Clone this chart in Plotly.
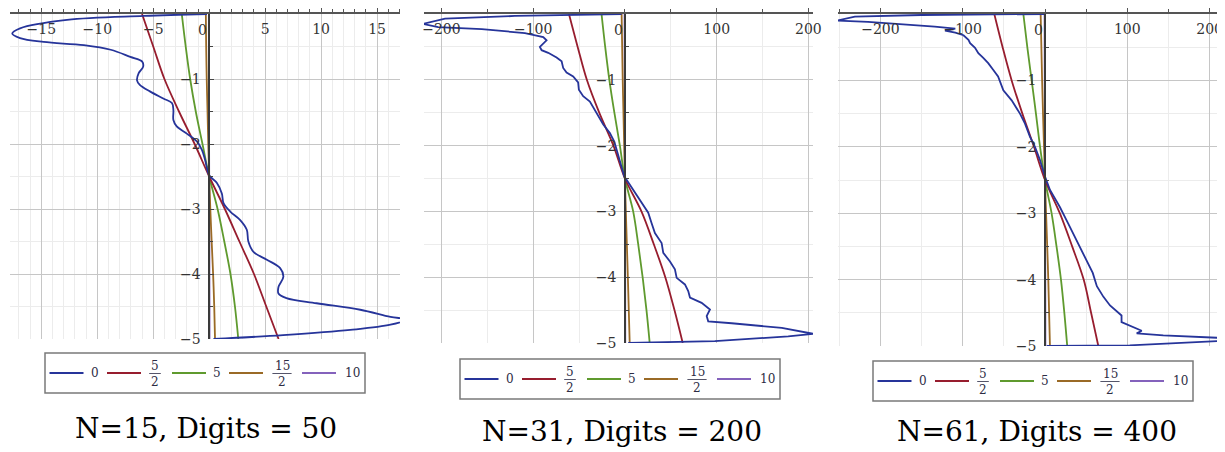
import plotly.graph_objects as go

# page is 1225x452; the browser's body margin (8px) shifts the figure, so the
# figure itself is drawn 8px smaller and all pixel positions are page positions - 8
PAGE_OFF = 8
W, H = 1225 - PAGE_OFF, 452 - PAGE_OFF

# ---------------- data ----------------
CURVE_LABELS = ["0", "5/2", "5", "15/2", "10"]
CURVE_COLORS = ["#26349a", "#971d2e", "#5f9a2e", "#9a6a26", "#8462bc"]
CAPTIONS = ["N=15, Digits = 50", "N=31, Digits = 200", "N=61, Digits = 400"]

DEPTH = [0, -0.5, -1, -1.5, -2, -2.5, -3, -3.5, -4, -4.5, -5]

# panel 1 (N=15)
p1_blue_x = [-0.2, -5.86, -12.7, -16.9, -17.6, -16.9, -14.8, -11.2, -8.8, -7.05, -6.0, -5.9, -6.3,
             -6.45, -6.2, -5.3, -4.1, -3.33, -3.2, -3.2, -2.9, -2.0, -1.1, -0.65, -0.36, 0.0,
             0.69, 1.13, 1.28, 1.88, 2.77, 3.36, 3.5, 3.96, 5.15, 6.34, 6.63, 6.19, 6.19, 6.9,
             9.6, 13.5, 16.2, 17.6, 16.2, 12.6, 6.6, 0.38]
p1_blue_y = [0, -0.03, -0.09, -0.22, -0.30, -0.37, -0.43, -0.48, -0.55, -0.66, -0.73, -0.81, -0.91,
             -1.02, -1.09, -1.19, -1.30, -1.37, -1.48, -1.63, -1.73, -1.84, -1.96, -2.09, -2.25, -2.48,
             -2.6, -2.76, -2.91, -3.04, -3.17, -3.32, -3.50, -3.66, -3.78, -3.91, -4.04, -4.20, -4.30, -4.37,
             -4.45, -4.55, -4.66, -4.70, -4.78, -4.86, -4.94, -5.0]
p1_red = [-6.0, -5.0, -4.0, -2.7, -1.3, 0, 1.4, 2.7, 4.0, 5.1, 6.2]
p1_green = [-2.45, -2.1, -1.7, -1.2, -0.6, 0, 0.75, 1.35, 1.9, 2.3, 2.6]
p1_brown = [-0.3, -0.27, -0.22, -0.15, -0.08, 0, 0.1, 0.22, 0.35, 0.45, 0.52]
p1_purple = [-0.03, -0.03, -0.02, -0.02, -0.01, 0, 0.01, 0.02, 0.02, 0.03, 0.03]

# panel 2 (N=31)
p2_blue_x = [-3.6, -120, -196, -220, -203.6, -156, -109, -89, -85.4, -92.7, -90.8, -83.6, -74.5, -69,
             -67.3, -63.6, -56.4, -51, -50.2, -45.5, -38.2, -32.7, -29.1, -23.6, -16.4, -11.6, -9.1,
             -5.5, -0.7, 1.8, 10.9, 18.2, 25.4, 29.1, 32.7, 40, 41.8, 49.1, 54.5, 56.4, 65.4, 69, 70.9,
             83.6, 92.7, 89.1, 90.8, 116.4, 171, 205, 178, 98, 3.6]
p2_blue_y = [0, -0.03, -0.07, -0.15, -0.20, -0.23, -0.29, -0.35, -0.40, -0.50, -0.55, -0.59, -0.66, -0.72,
             -0.82, -0.89, -0.95, -1.04, -1.15, -1.25, -1.33, -1.46, -1.56, -1.68, -1.81, -1.94, -2.06,
             -2.22, -2.47, -2.52, -2.72, -2.87, -3.02, -3.18, -3.33, -3.48, -3.63, -3.76, -3.88, -4.01, -4.11, -4.21, -4.31,
             -4.39, -4.49, -4.59, -4.67, -4.70, -4.77, -4.86, -4.90, -4.97, -5.0]
p2_red = [-61, -51.5, -41.5, -28, -12.5, 0, 18, 31.5, 44, 54, 63]
p2_green = [-25.5, -21.5, -17, -11.5, -5.5, 0, 9, 14.5, 19.3, 23.5, 27]
p2_brown = [-3.6, -3.0, -2.4, -1.6, -0.8, 0, 1.0, 2.1, 3.2, 4.2, 5.2]
p2_purple = [-0.4, -0.35, -0.3, -0.2, -0.1, 0, 0.1, 0.2, 0.3, 0.35, 0.4]

# panel 3 (N=61)
p3_blue_x = [0, -150, -231, -253, -215, -174, -134, -109, -121.5, -109, -99, -93, -91, -85, -81, -75,
             -69, -63, -57, -50.6, -40.5, -30.4, -24.3, -18.2, -12.2, -6.1, 0, 6.1, 18.2, 28.4, 38.5,
             46.6, 58, 63, 71, 79, 93, 93, 103, 117.5, 111.4, 143.7, 253, 184, 103, 2]
p3_blue_y = [0, -0.015, -0.04, -0.10, -0.12, -0.15, -0.19, -0.22, -0.25, -0.28, -0.32, -0.39, -0.44, -0.51, -0.59, -0.66,
             -0.74, -0.84, -0.94, -1.15, -1.30, -1.50, -1.65, -1.85, -2.0, -2.20, -2.45, -2.65, -2.91, -3.16, -3.41,
             -3.61, -3.9, -4.1, -4.26, -4.39, -4.54, -4.64, -4.69, -4.77, -4.81, -4.84, -4.90, -4.94, -4.99, -5.0]
p3_red = [-61.6, -51.5, -40.5, -27.5, -13.4, 0, 18, 33, 47, 56, 64.8]
p3_green = [-26.3, -21.5, -16.2, -11, -6, 0, 8, 14, 19.4, 23.5, 27]
p3_brown = [-5.3, -4.4, -3.5, -2.4, -1.2, 0, 1.3, 2.7, 4.0, 5.0, 6.0]
p3_purple = [-0.5, -0.45, -0.35, -0.25, -0.12, 0, 0.12, 0.25, 0.35, 0.45, 0.5]

X_RANGES = [[-17.8, 17.05], [-219, 205], [-251.5, 218.7]]
X_MAJOR = [[-15, -10, -5, 5, 10, 15], [-200, -100, 100, 200], [-200, -100, 100, 200]]
X_MINOR_STEP = [1, 50, 50]
Y_TICKS = [-1, -2, -3, -4, -5]

panels = [
    (p1_blue_x, p1_blue_y, [p1_red, p1_green, p1_brown, p1_purple], "spline"),
    (p2_blue_x, p2_blue_y, [p2_red, p2_green, p2_brown, p2_purple], "linear"),
    (p3_blue_x, p3_blue_y, [p3_red, p3_green, p3_brown, p3_purple], "linear"),
]

# ---------------- layout geometry (page pixels) ----------------
PLOT_PX = [(10, 400, 14, 339), (424, 813, 14, 343), (838, 1225, 14, 346)]
LEGEND_BOX = [(45, 353), (460, 359), (873, 361)]
LEG_W, LEG_H = 320, 40
LINE_OFF = [4.5, 62, 127, 184, 257]
LINE_LEN = 34
LABEL_OFF = [50, 110, 172, 237, 307]
CAPTION_POS = [(206, 428), (622, 431), (1037, 431)]

SERIF = "DejaVu Serif"
GRID_MAJOR = "#c6c6c6"
GRID_MINOR = "#ececec"


def px(x):
    return (x - PAGE_OFF) / W


def py(y):
    return 1 - (y - PAGE_OFF) / H


fig = go.Figure()
layout = dict(
    width=W, height=H, margin=dict(l=0, r=0, t=0, b=0, autoexpand=False),
    paper_bgcolor="white", plot_bgcolor="white", showlegend=False,
    font=dict(family=SERIF, size=14, color="#333333"),
)
shapes, annotations = [], []

for i, (bx, by, others, bshape) in enumerate(panels):
    n = i + 1
    xa = "x" if n == 1 else f"x{n}"
    ya = "y" if n == 1 else f"y{n}"
    xkey = "xaxis" if n == 1 else f"xaxis{n}"
    ykey = "yaxis" if n == 1 else f"yaxis{n}"
    l, r, t, b = PLOT_PX[i]
    xd = [max(0.0, px(l)), min(1.0, px(r))]
    yd = [py(b), py(t)]
    xr = X_RANGES[i]
    ypos = xd[0] + (0 - xr[0]) / (xr[1] - xr[0]) * (xd[1] - xd[0])

    for k in range(3, -1, -1):
        fig.add_trace(go.Scatter(x=others[k], y=DEPTH, mode="lines", xaxis=xa, yaxis=ya,
                                 line=dict(color=CURVE_COLORS[k + 1], width=1.8, shape="spline"),
                                 name=CURVE_LABELS[k + 1], hoverinfo="skip"))
    fig.add_trace(go.Scatter(x=bx, y=by, mode="lines", xaxis=xa, yaxis=ya,
                             line=dict(color=CURVE_COLORS[0], width=1.8, shape=bshape),
                             name=CURVE_LABELS[0], hoverinfo="skip"))

    layout[xkey] = dict(
        domain=xd, range=xr, side="top", anchor=ya, automargin=False,
        tickmode="array", tickvals=X_MAJOR[i],
        ticks="outside", ticklen=4, tickcolor="#555555",
        ticklabelposition="inside", ticklabeloverflow="allow", ticklabelstandoff=10,
        showline=True, linecolor="#555555", linewidth=2,
        showgrid=True, gridcolor=GRID_MAJOR, gridwidth=1.2, zeroline=False,
        minor=dict(dtick=X_MINOR_STEP[i], tick0=0, showgrid=True, gridcolor=GRID_MINOR,
                   ticks="outside", ticklen=3, tickcolor="#555555"),
        tickfont=dict(family=SERIF, size=14, color="#333333"),
        fixedrange=True,
    )
    layout[ykey] = dict(
        domain=yd, range=[-5, 0], anchor="free", position=ypos, side="left", automargin=False,
        tickmode="array", tickvals=Y_TICKS,
        ticks="inside", ticklen=4, tickcolor="#444444",
        showline=True, linecolor="#3a3a3a", linewidth=1.5,
        showgrid=True, gridcolor=GRID_MAJOR, gridwidth=1.2, zeroline=False,
        minor=dict(dtick=0.5, tick0=0, showgrid=True, gridcolor=GRID_MINOR,
                   ticks="inside", ticklen=3, tickcolor="#444444"),
        tickfont=dict(family=SERIF, size=14, color="#333333"),
        ticklabelstandoff=5, ticklabeloverflow="allow",
        fixedrange=True,
    )
    # origin label
    annotations.append(dict(x=0, y=0, xref=xa, yref=ya, text="0", showarrow=False,
                            xanchor="right", yanchor="top", xshift=0, yshift=-6,
                            font=dict(family=SERIF, size=14, color="#333333")))

    # legend box
    L, T = LEGEND_BOX[i]
    shapes.append(dict(type="rect", xref="paper", yref="paper",
                       x0=px(L), x1=px(L + LEG_W), y0=py(T + LEG_H), y1=py(T),
                       line=dict(color="#7a7a7a", width=1.5), fillcolor="white", layer="above"))
    cy = T + LEG_H / 2
    for k, lab in enumerate(CURVE_LABELS):
        x0 = L + LINE_OFF[k]
        shapes.append(dict(type="line", xref="paper", yref="paper",
                           x0=px(x0), x1=px(x0 + LINE_LEN), y0=py(cy), y1=py(cy),
                           line=dict(color=CURVE_COLORS[k], width=2), layer="above"))
        cx = L + LABEL_OFF[k]
        lf = dict(family=SERIF, size=12, color="#2c2c44")
        if "/" in lab:
            num, den = lab.split("/")
            half = 3.8 * len(num) + 2
            shapes.append(dict(type="line", xref="paper", yref="paper",
                               x0=px(cx - half), x1=px(cx + half), y0=py(cy + 0.5), y1=py(cy + 0.5),
                               line=dict(color="#55556a", width=1), layer="above"))
            annotations.append(dict(x=px(cx), y=py(cy - 7), xref="paper", yref="paper",
                                    text=num, showarrow=False, xanchor="center", yanchor="middle",
                                    font=lf))
            annotations.append(dict(x=px(cx), y=py(cy + 9), xref="paper", yref="paper",
                                    text=den, showarrow=False, xanchor="center", yanchor="middle",
                                    font=lf))
        else:
            annotations.append(dict(x=px(cx), y=py(cy), xref="paper", yref="paper",
                                    text=lab, showarrow=False, xanchor="center", yanchor="middle",
                                    font=lf))

    # caption
    cxp, cyp = CAPTION_POS[i]
    annotations.append(dict(x=px(cxp), y=py(cyp), xref="paper", yref="paper",
                            text=CAPTIONS[i], showarrow=False, xanchor="center", yanchor="middle",
                            font=dict(family=SERIF, size=28, color="#000000")))

layout["shapes"] = shapes
layout["annotations"] = annotations
fig.update_layout(**layout)
fig.write_html("out.html")
